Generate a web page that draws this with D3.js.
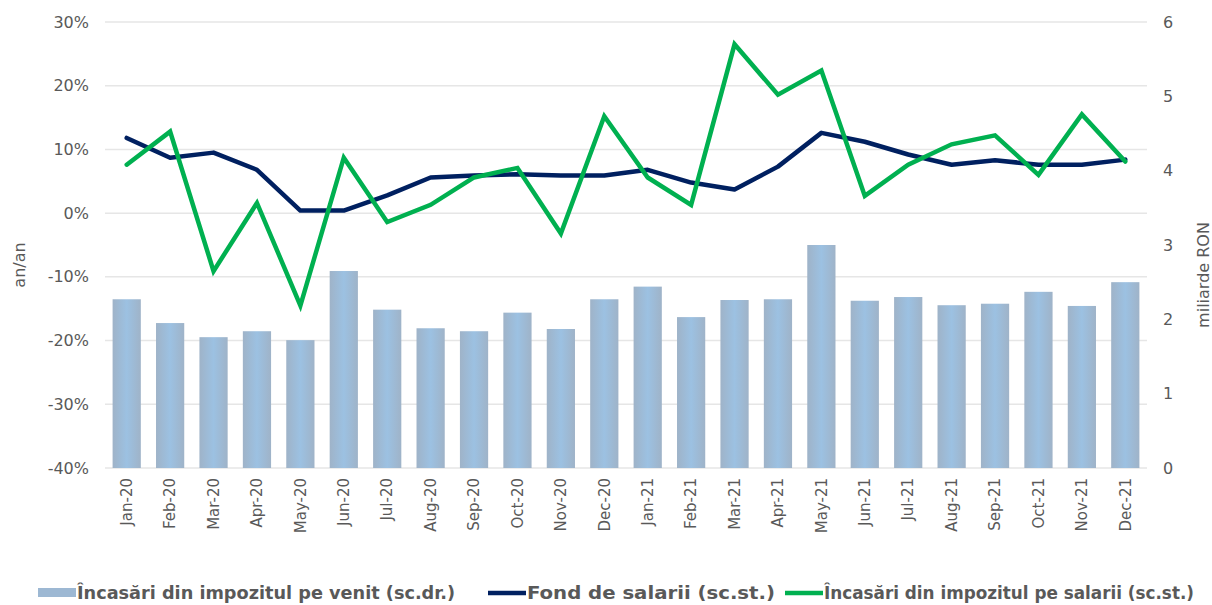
<!DOCTYPE html>
<html>
<head>
<meta charset="utf-8">
<script src="https://cdn.jsdelivr.net/npm/d3@7"></script>
<style>
  html, body { margin: 0; padding: 0; background: #ffffff; }
  svg { display: block; }
</style>
</head>
<body>
<svg id="chart" width="1212" height="605"></svg>
<script>
const categories = ["Jan-20","Feb-20","Mar-20","Apr-20","May-20","Jun-20","Jul-20","Aug-20","Sep-20","Oct-20","Nov-20","Dec-20",
                    "Jan-21","Feb-21","Mar-21","Apr-21","May-21","Jun-21","Jul-21","Aug-21","Sep-21","Oct-21","Nov-21","Dec-21"];
// Încasări din impozitul pe venit (miliarde RON, right axis)
const incomeTax = [2.27,1.95,1.76,1.84,1.72,2.65,2.13,1.88,1.84,2.09,1.87,2.27,
                   2.44,2.03,2.26,2.27,3.00,2.25,2.30,2.19,2.21,2.37,2.18,2.50];
// Fond de salarii (% an/an, left axis)
const wageFund = [11.8,8.7,9.5,6.8,0.4,0.4,2.8,5.6,5.9,6.1,5.9,5.9,
                  6.8,4.8,3.7,7.3,12.6,11.2,9.2,7.6,8.3,7.6,7.6,8.4];
// Încasări din impozitul pe salarii (% an/an, left axis)
const wageTax = [7.6,12.8,-9.1,1.6,-14.5,8.7,-1.4,1.3,5.6,7.1,-3.2,15.2,
                 5.6,1.3,26.5,18.6,22.4,2.7,7.6,10.8,12.2,6.0,15.5,8.1];
const leftTicks = [-40,-30,-20,-10,0,10,20,30];
const rightTicks = [0,1,2,3,4,5,6];
const legendLabels = ["Încasări din impozitul pe venit (sc.dr.)","Fond de salarii (sc.st.)","Încasări din impozitul pe salarii (sc.st.)"];

const svg = d3.select("#chart");
const L = 105, R = 1147, T = 22, B = 468;
const textColor = "#595959";
const font = "'DejaVu Sans', Verdana, sans-serif";

const x = d3.scaleBand().domain(categories).range([L, R]).paddingInner(0.35).paddingOuter(0.175);
const xPt = c => x(c) + x.bandwidth() / 2;
const yL = d3.scaleLinear().domain([-40, 30]).range([B, T]);
const yR = d3.scaleLinear().domain([0, 6]).range([B, T]);

// gradient for bars
const defs = svg.append("defs");
const grad = defs.append("linearGradient").attr("id", "barGrad").attr("x1", "0").attr("x2", "1").attr("y1", "0").attr("y2", "0");
grad.append("stop").attr("offset", "0%").attr("stop-color", "#9fb3c8");
grad.append("stop").attr("offset", "50%").attr("stop-color", "#9cc1e2");
grad.append("stop").attr("offset", "100%").attr("stop-color", "#9fb3c8");

// gridlines
svg.append("g").selectAll("line").data(leftTicks).join("line")
  .attr("x1", L).attr("x2", R)
  .attr("y1", d => yL(d)).attr("y2", d => yL(d))
  .attr("stroke", "#e6e6e6").attr("stroke-width", 1.5);

// left axis
const axL = svg.append("g").attr("transform", `translate(${L},0)`)
  .call(d3.axisLeft(yL).tickValues(leftTicks).tickSize(0).tickPadding(16).tickFormat(d => d + "%"));
axL.select(".domain").remove();
axL.selectAll("text").attr("font-family", font).attr("font-size", 16).attr("fill", textColor);

// right axis
const axR = svg.append("g").attr("transform", `translate(${R},0)`)
  .call(d3.axisRight(yR).tickValues(rightTicks).tickSize(0).tickPadding(16).tickFormat(d3.format("d")));
axR.select(".domain").remove();
axR.selectAll("text").attr("font-family", font).attr("font-size", 16).attr("fill", textColor);

// bars
svg.append("g").selectAll("rect").data(incomeTax).join("rect")
  .attr("x", (d, i) => x(categories[i]))
  .attr("width", x.bandwidth())
  .attr("y", d => yR(d))
  .attr("height", d => yR(0) - yR(d))
  .attr("fill", "url(#barGrad)");

// x axis labels
const axB = svg.append("g").attr("transform", `translate(0,${B})`)
  .call(d3.axisBottom(x).tickSize(0).tickPadding(0));
axB.select(".domain").remove();
axB.selectAll("text")
  .attr("font-family", font).attr("font-size", 15).attr("fill", textColor)
  .attr("text-anchor", "end")
  .attr("dy", "0.35em")
  .attr("transform", "translate(0,10) rotate(-90)")
  .attr("x", 0).attr("y", 0);

// lines
const line = d3.line().x((d, i) => xPt(categories[i])).y(d => yL(d));
svg.append("path").datum(wageFund).attr("d", line)
  .attr("fill", "none").attr("stroke", "#002060").attr("stroke-width", 4.5).attr("stroke-linejoin", "round").attr("stroke-linecap", "round");
svg.append("path").datum(wageTax).attr("d", line)
  .attr("fill", "none").attr("stroke", "#00b050").attr("stroke-width", 4.5).attr("stroke-linejoin", "miter").attr("stroke-linecap", "round");

// axis titles
svg.append("text").attr("transform", "translate(25,265) rotate(-90)")
  .attr("text-anchor", "middle").attr("font-family", font).attr("font-size", 16).attr("fill", textColor).text("an/an");
svg.append("text").attr("transform", "translate(1209,275) rotate(-90)")
  .attr("text-anchor", "middle").attr("font-family", font).attr("font-size", 16).attr("fill", textColor).text("miliarde RON");

// legend
const legFont = "'DejaVu Sans Condensed', 'DejaVu Sans', sans-serif";
const leg = svg.append("g");
const legItems = [
  {x: 38, text: legendLabels[0], type: "rect", color: "#9db8d3", width: 378},
  {x: 488, text: legendLabels[1], type: "line", color: "#002060", width: 248},
  {x: 785, text: legendLabels[2], type: "line", color: "#00b050", width: 370}
];
legItems.forEach(it => {
  if (it.type === "rect") {
    leg.append("rect").attr("x", it.x).attr("y", 588).attr("width", 38).attr("height", 9).attr("fill", it.color);
  } else {
    leg.append("line").attr("x1", it.x).attr("x2", it.x + 38).attr("y1", 593).attr("y2", 593)
      .attr("stroke", it.color).attr("stroke-width", 4.5);
  }
  leg.append("text").attr("x", it.x + 39).attr("y", 599)
    .attr("font-family", legFont).attr("font-weight", "bold").attr("font-size", 17)
    .attr("fill", textColor)
    .attr("textLength", it.width).attr("lengthAdjust", "spacingAndGlyphs")
    .text(it.text);
});
</script>
</body>
</html>
